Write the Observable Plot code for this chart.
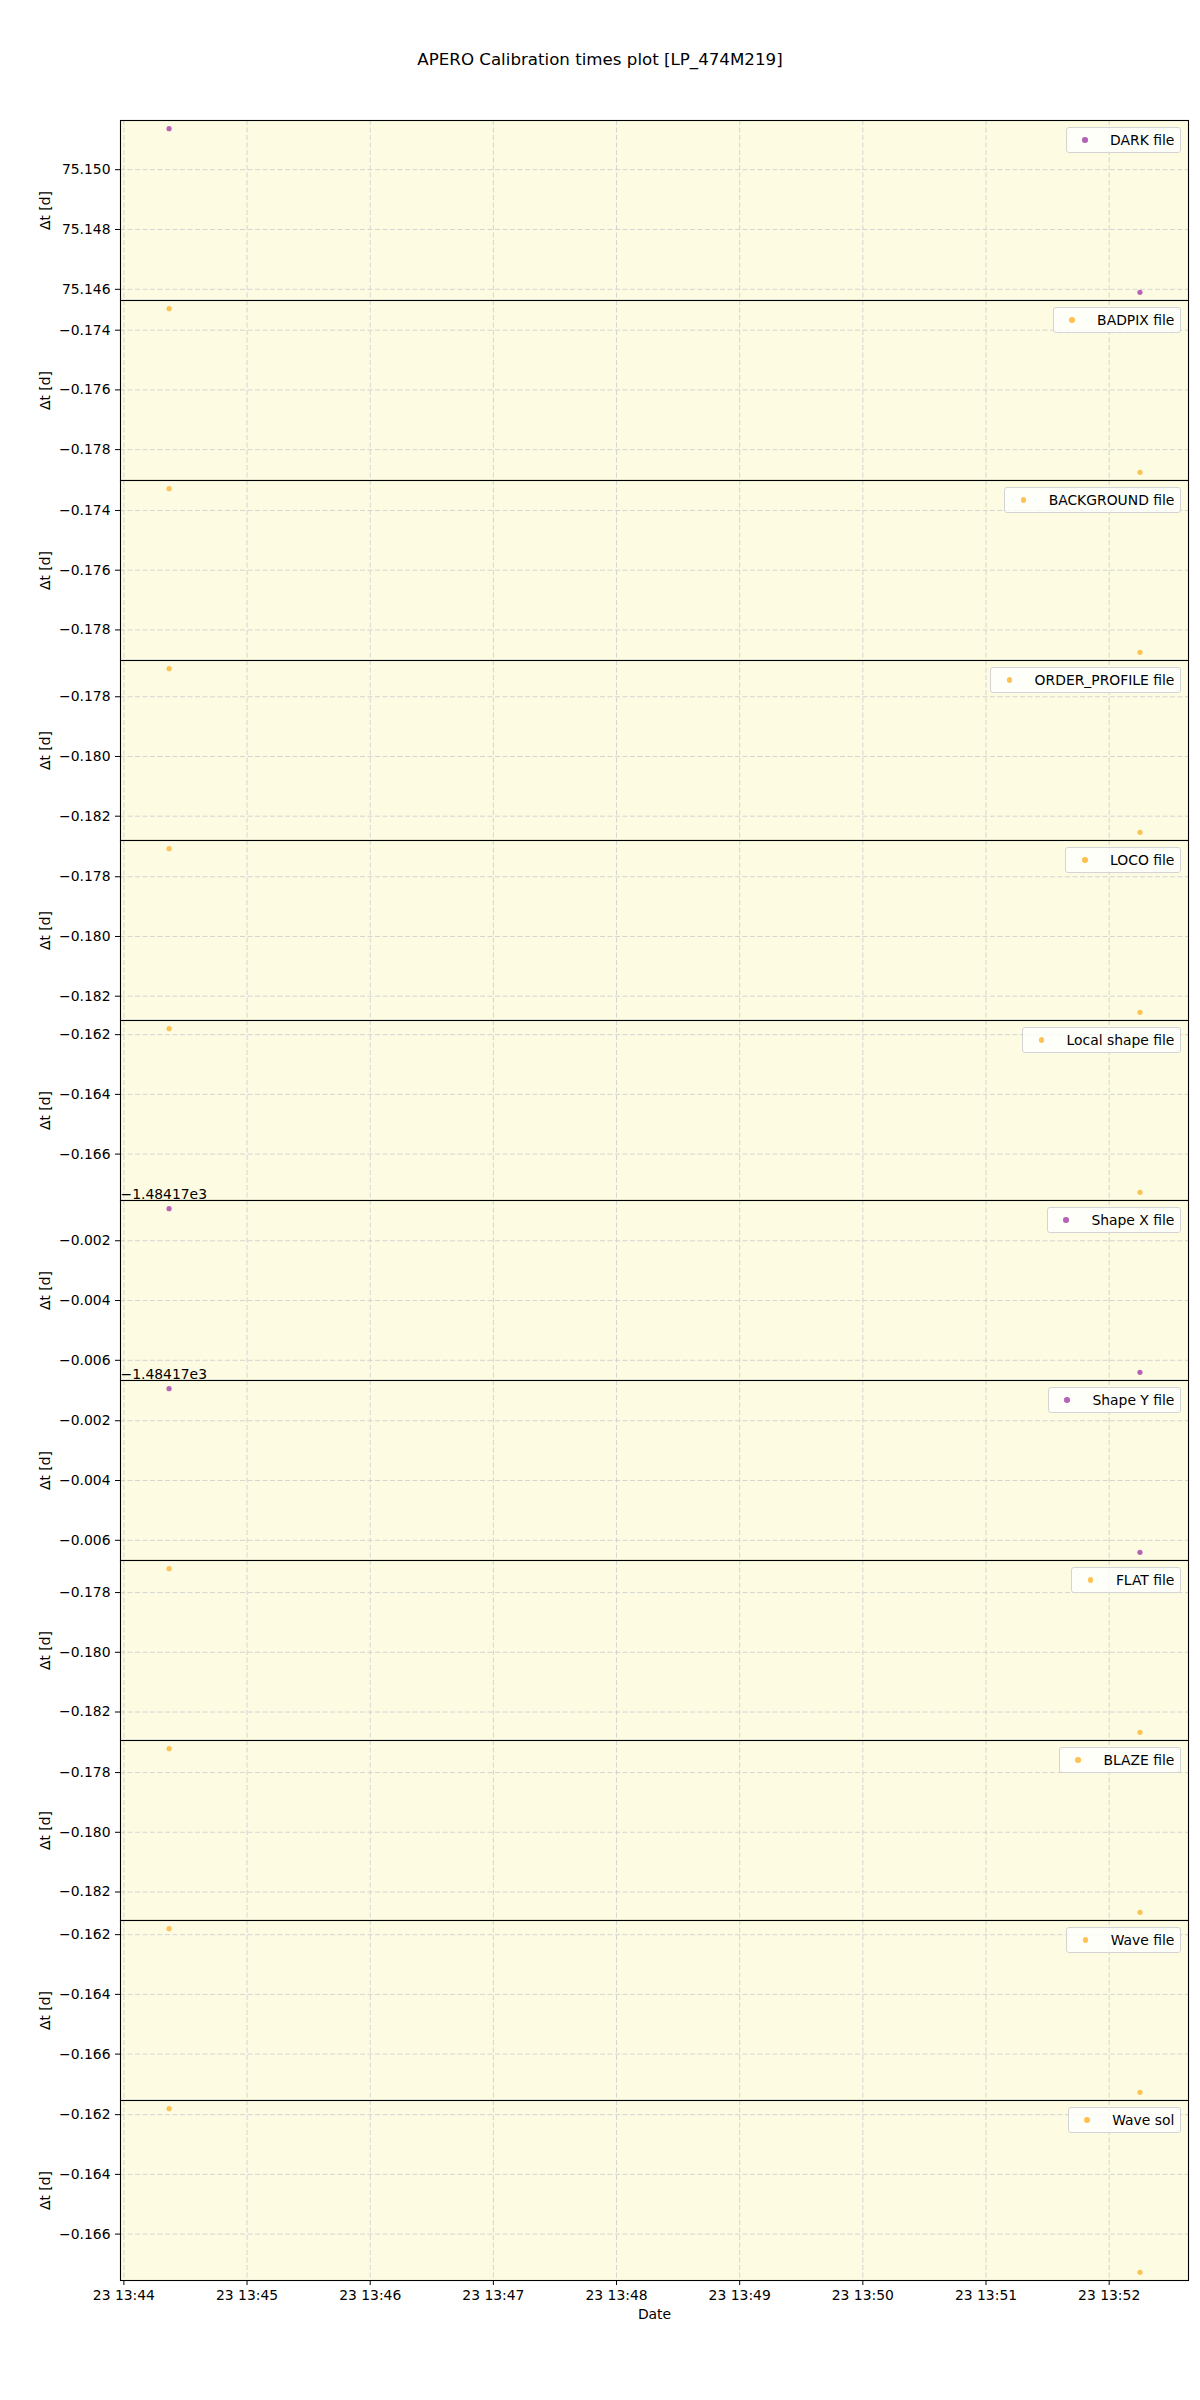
<!DOCTYPE html>
<html><head><meta charset="utf-8">
<script src="https://cdn.jsdelivr.net/npm/d3@7"></script>
<script src="https://cdn.jsdelivr.net/npm/@observablehq/plot@0.6"></script>
<style>
body{margin:0;background:#fff;font-family:"DejaVu Sans",sans-serif;}
#wrap{position:relative;width:1200px;height:2400px;overflow:hidden;}
#title{position:absolute;left:0;width:1200px;top:50px;line-height:20px;text-align:center;font-size:16.67px;color:#000;}
.panel{position:absolute;left:0;}
.legend{position:absolute;right:19px;background:rgba(255,255,255,0.8);border:1px solid #d4d4d4;border-radius:3px;
  padding:4px 5.6px;font-size:13.9px;line-height:16px;color:#000;white-space:nowrap;}
.legend .dot{display:inline-block;width:5.5px;height:5.5px;border-radius:50%;margin-left:10px;margin-right:22.5px;vertical-align:middle;position:relative;top:-1px;}
</style></head>
<body><div id="wrap"><div id="title">APERO Calibration times plot [LP_474M219]</div></div>
<script>
// ---- data ----
const calibLabels = ["DARK file","BADPIX file","BACKGROUND file","ORDER_PROFILE file","LOCO file","Local shape file",
  "Shape X file","Shape Y file","FLAT file","BLAZE file","Wave file","Wave sol"];
const obsTimes = ["2022-11-23T13:44:22Z","2022-11-23T13:52:15Z"];
const dtFirst  = [75.15137,-0.17328,-0.17327,-0.17706,-0.17706,-0.16180,-1484.170927,-1484.170927,-0.17720,-0.17720,-0.16180,-0.16180];
const dtSecond = [75.14590,-0.17876,-0.17875,-0.18254,-0.18254,-0.16728,-1484.176402,-1484.176402,-0.18268,-0.18268,-0.16728,-0.16728];
const yOffsets = [0,0,0,0,0,0,-1484.17,-1484.17,0,0,0,0];
const purpleKinds = ["DARK file","Shape X file","Shape Y file"];
const xTickLabels = ["13:44","13:45","13:46","13:47","13:48","13:49","13:50","13:51","13:52"];
const tickDay = "2022-11-23";

// ---- styles ----
const bg = "#fdfce3", gridColor = "#cfcfcf", purple = "#b564b5", orange = "#fec253";
const top0 = 120, ph = 180;
const wrap = document.getElementById("wrap");
const times = obsTimes.map(s => new Date(s));
const span = times[1] - times[0];
const xDomain = [new Date(+times[0] - 0.05*span), new Date(+times[1] + 0.05*span)];
const xTicks = xTickLabels.map(s => new Date(`${tickDay}T${s}:00Z`));
const fmt3 = d3.format(".3f");

calibLabels.forEach((lab, i) => {
  const isLast = i === calibLabels.length - 1;
  const color = purpleKinds.includes(lab) ? purple : orange;
  const data = [{t: times[0], dt: dtFirst[i]}, {t: times[1], dt: dtSecond[i]}];
  const lo = Math.min(dtFirst[i], dtSecond[i]), hi = Math.max(dtFirst[i], dtSecond[i]);
  const pad = 0.05*(hi - lo);
  const yDomain = [lo - pad, hi + pad];
  const off = yOffsets[i];
  const yTicks = d3.ticks(yDomain[0] - off, yDomain[1] - off, 3).map(v => v + off);
  const mt = 22, mb = isLast ? 70 : 0;
  const marks = [
    Plot.frame({fill: bg, stroke: null}),
    Plot.gridX({ticks: xTicks, stroke: gridColor, strokeOpacity: 1, strokeDasharray: "5,2.5", strokeWidth: 0.9}),
    Plot.gridY({ticks: yTicks, stroke: gridColor, strokeOpacity: 1, strokeDasharray: "5,2.5", strokeWidth: 0.9}),
    Plot.dot(data, {x: "t", y: "dt", r: 2.6, fill: color, stroke: null}),
    Plot.axisY({ticks: yTicks, tickFormat: d => fmt3(d - off), label: "Δt [d]", labelArrow: "none",
      labelAnchor: "center", labelOffset: 80, tickSize: 5, tickPadding: 5, fontSize: 13.9}),
    Plot.frame({stroke: "black", strokeWidth: 1.1})
  ];
  if (isLast) marks.push(Plot.axisX({ticks: xTicks, tickFormat: d3.utcFormat("%d %H:%M"), label: "Date", labelArrow: "none",
      labelAnchor: "center", labelOffset: 38, tickSize: 5, tickPadding: 5, fontSize: 13.9}));
  if (off) {
    const offText = d3.format(".5e")(off).replace("e+", "e");
    marks.push(Plot.text([offText], {text: d => d, frameAnchor: "top-left", textAnchor: "start", lineAnchor: "bottom",
      dy: -2, fontSize: 13.9, fill: "black"}));
  }
  const svg = Plot.plot({
    width: 1200, height: ph + mt + mb,
    marginLeft: 120, marginRight: 12, marginTop: mt, marginBottom: mb,
    x: {type: "utc", domain: xDomain, axis: isLast ? undefined : null},
    y: {domain: yDomain},
    style: {fontFamily: "DejaVu Sans", fontSize: "13.9px", background: "transparent", color: "black", overflow: "visible"},
    marks
  });
  svg.classList.add("panel");
  svg.style.top = (top0 + i*ph - mt) + "px";
  wrap.appendChild(svg);

  const lg = document.createElement("div");
  lg.className = "legend";
  lg.style.top = (top0 + i*ph + 7) + "px";
  const dot = document.createElement("span");
  dot.className = "dot"; dot.style.background = color;
  lg.appendChild(dot);
  lg.appendChild(document.createTextNode(lab));
  wrap.appendChild(lg);
});
</script>
</body></html>
